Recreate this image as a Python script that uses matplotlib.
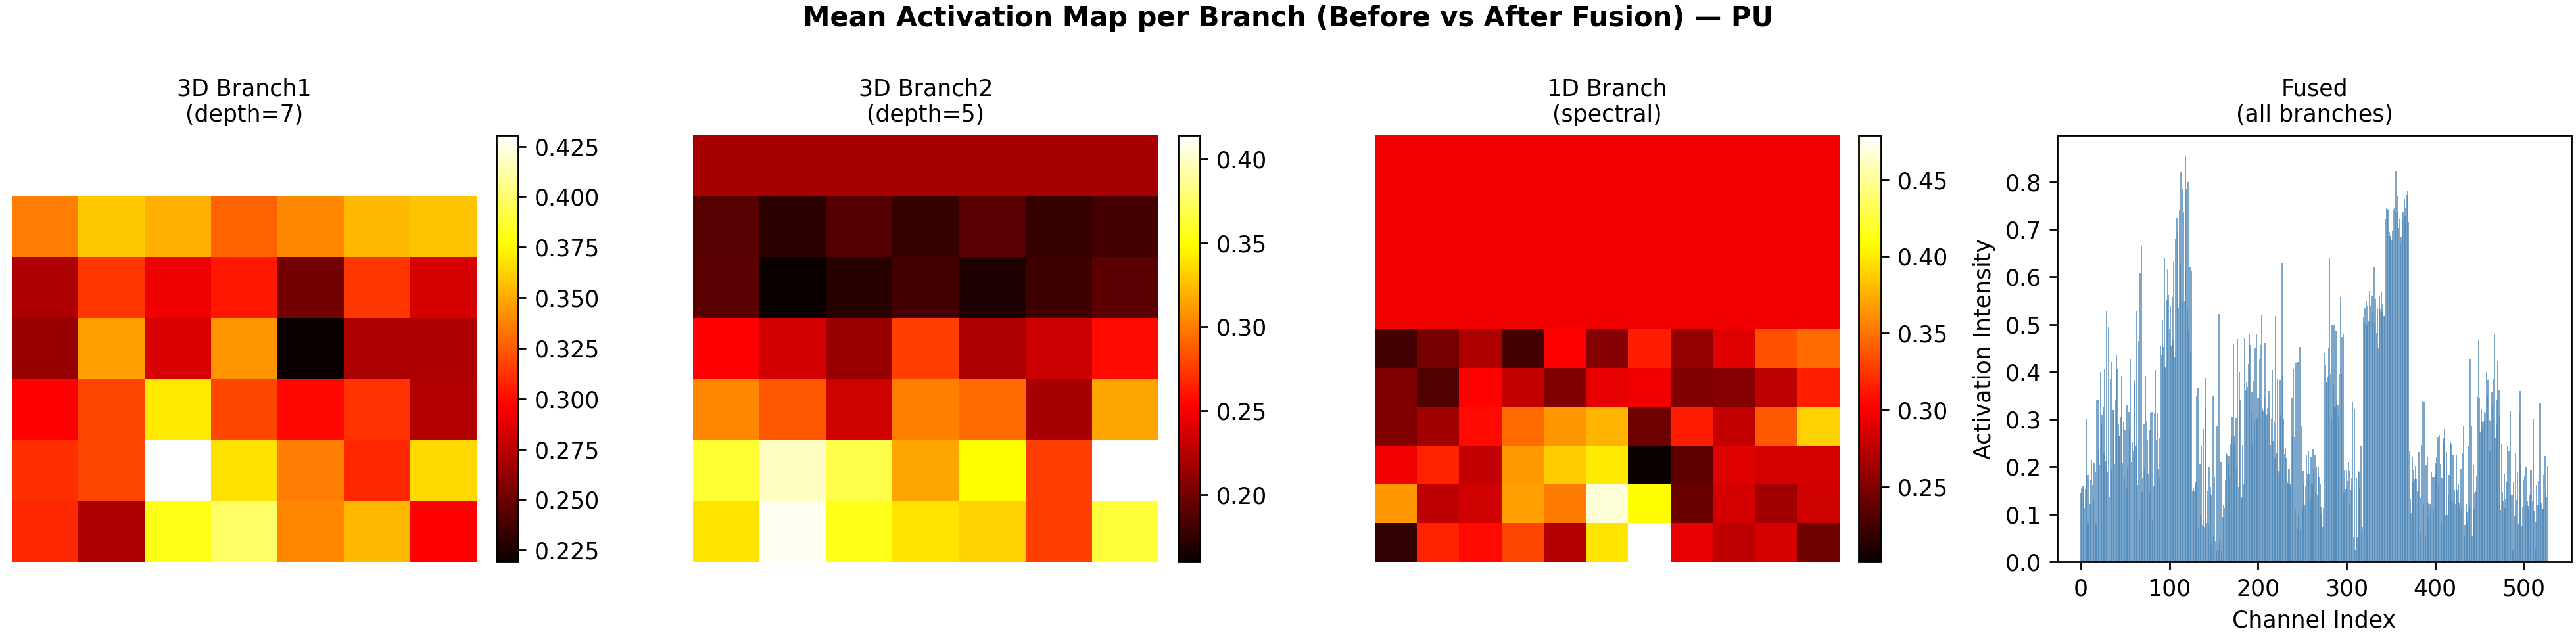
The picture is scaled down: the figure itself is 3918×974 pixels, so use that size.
import numpy as np
import matplotlib
matplotlib.use("Agg")
import matplotlib.pyplot as plt

# ---- data ----
nan = np.nan

# 3D Branch1 (depth=7): 7x7, top row empty
branch1 = [
    [nan, nan, nan, nan, nan, nan, nan],
    [0.336, 0.360, 0.352, 0.328, 0.339, 0.355, 0.358],
    [0.271, 0.314, 0.291, 0.304, 0.253, 0.314, 0.284],
    [0.264, 0.347, 0.285, 0.343, 0.2192, 0.270, 0.271],
    [0.296, 0.319, 0.370, 0.319, 0.299, 0.312, 0.272],
    [0.311, 0.319, 0.4304, 0.367, 0.336, 0.309, 0.365],
    [0.309, 0.270, 0.381, 0.398, 0.339, 0.355, 0.296],
]

# 3D Branch2 (depth=5): 7x7
branch2 = [
    [0.220, 0.220, 0.220, 0.220, 0.220, 0.220, 0.220],
    [0.189, 0.173, 0.188, 0.177, 0.191, 0.177, 0.182],
    [0.191, 0.160, 0.171, 0.182, 0.167, 0.180, 0.191],
    [0.253, 0.236, 0.214, 0.277, 0.221, 0.233, 0.257],
    [0.304, 0.286, 0.235, 0.301, 0.293, 0.220, 0.315],
    [0.362, 0.399, 0.368, 0.315, 0.349, 0.277, 0.414],
    [0.339, 0.410, 0.356, 0.339, 0.332, 0.277, 0.364],
]

# 1D Branch (spectral): 11x11, first five rows constant
branch1d = [
    [0.297] * 11,
    [0.297] * 11,
    [0.297] * 11,
    [0.297] * 11,
    [0.297] * 11,
    [0.225, 0.246, 0.270, 0.225, 0.302, 0.253, 0.314, 0.258, 0.290, 0.336, 0.347],
    [0.250, 0.231, 0.304, 0.278, 0.250, 0.293, 0.297, 0.250, 0.253, 0.275, 0.316],
    [0.250, 0.263, 0.307, 0.347, 0.366, 0.377, 0.243, 0.314, 0.278, 0.339, 0.389],
    [0.297, 0.317, 0.278, 0.367, 0.387, 0.399, 0.201, 0.236, 0.290, 0.286, 0.285],
    [0.366, 0.275, 0.283, 0.369, 0.354, 0.468, 0.408, 0.242, 0.285, 0.263, 0.283],
    [0.218, 0.317, 0.307, 0.332, 0.271, 0.397, 0.479, 0.293, 0.275, 0.286, 0.243],
]

# Fused channel activations (528 channels)
fused_a = [
    0.144, 0.157, 0.161, 0.153, 0.114, 0.153, 0.302, 0.183, 0.081, 0.183,
    0.122, 0.171, 0.214, 0.162, 0.131, 0.208, 0.190, 0.080, 0.341, 0.340,
    0.238, 0.205, 0.400, 0.290, 0.309, 0.326, 0.230, 0.405, 0.212, 0.529,
    0.190, 0.495, 0.137, 0.384, 0.193, 0.420, 0.320, 0.320, 0.206, 0.342,
    0.434, 0.406, 0.290, 0.264, 0.264, 0.306, 0.392, 0.208, 0.295, 0.177,
    0.278, 0.153, 0.330, 0.200, 0.316, 0.280, 0.427, 0.210, 0.253, 0.233,
    0.374, 0.383, 0.245, 0.529, 0.162, 0.465, 0.090, 0.608, 0.664, 0.146,
    0.177, 0.290, 0.195, 0.392, 0.298, 0.256, 0.185, 0.146, 0.276, 0.313,
    0.316, 0.089, 0.161, 0.314, 0.404, 0.256, 0.313, 0.197, 0.176, 0.260,
    0.455, 0.435, 0.509, 0.452, 0.640, 0.409, 0.406, 0.550, 0.617, 0.562,
    0.491, 0.540, 0.455, 0.558, 0.467, 0.632, 0.431, 0.680, 0.724, 0.691,
    0.535, 0.740, 0.628, 0.820, 0.785, 0.547, 0.737, 0.549, 0.855, 0.785,
    0.535, 0.800, 0.487, 0.620, 0.440, 0.613, 0.150, 0.155, 0.149, 0.159,
    0.167, 0.348, 0.365, 0.069, 0.206, 0.100, 0.244, 0.077, 0.279, 0.074,
    0.324, 0.387, 0.081, 0.149, 0.078, 0.200, 0.158, 0.141, 0.034, 0.349,
    0.056, 0.179, 0.043, 0.022, 0.286, 0.025, 0.522, 0.046, 0.210, 0.022,
    0.094, 0.119, 0.113, 0.171, 0.229, 0.224, 0.209, 0.223, 0.177, 0.249,
    0.265, 0.304, 0.458, 0.265, 0.246, 0.303, 0.197, 0.469, 0.158, 0.400,
    0.342, 0.131, 0.137, 0.246, 0.164, 0.470, 0.363, 0.377, 0.368, 0.416,
    0.479, 0.456, 0.313, 0.358, 0.249, 0.380, 0.297, 0.449, 0.480, 0.300,
    0.344, 0.344, 0.428, 0.457, 0.520, 0.322, 0.318, 0.344, 0.460, 0.314,
]
fused_b = [
    0.309, 0.323, 0.360, 0.314, 0.246, 0.300, 0.404, 0.255, 0.294, 0.218,
    0.517, 0.228, 0.384, 0.191, 0.187, 0.382, 0.309, 0.628, 0.394, 0.300,
    0.227, 0.239, 0.219, 0.167, 0.164, 0.196, 0.163, 0.161, 0.344, 0.265,
    0.405, 0.263, 0.112, 0.418, 0.069, 0.420, 0.099, 0.452, 0.068, 0.286,
    0.113, 0.191, 0.164, 0.120, 0.161, 0.226, 0.184, 0.233, 0.185, 0.131,
    0.220, 0.165, 0.238, 0.197, 0.226, 0.145, 0.200, 0.140, 0.200, 0.178,
    0.164, 0.116, 0.099, 0.074, 0.113, 0.440, 0.414, 0.378, 0.376, 0.390,
    0.450, 0.640, 0.396, 0.300, 0.500, 0.372, 0.499, 0.327, 0.487, 0.335,
    0.330, 0.304, 0.396, 0.558, 0.398, 0.473, 0.478, 0.146, 0.194, 0.153,
    0.194, 0.170, 0.210, 0.120, 0.191, 0.152, 0.177, 0.336, 0.053, 0.322,
    0.025, 0.177, 0.053, 0.191, 0.188, 0.155, 0.243, 0.065, 0.074,
]
fused_c = [
    0.515, 0.502, 0.535, 0.549, 0.499, 0.538, 0.506, 0.570, 0.538, 0.559,
    0.524, 0.559, 0.620, 0.502, 0.553, 0.481, 0.535, 0.450, 0.559, 0.533,
    0.567, 0.525, 0.543, 0.517, 0.517, 0.720, 0.746, 0.743, 0.740, 0.695,
    0.686, 0.686, 0.677, 0.696, 0.740, 0.745, 0.736, 0.823, 0.770, 0.736,
    0.703, 0.720, 0.669, 0.685, 0.720, 0.736, 0.763, 0.727, 0.745, 0.772,
    0.782, 0.715, 0.232, 0.132, 0.102, 0.221, 0.167, 0.194, 0.174, 0.202,
    0.174, 0.150, 0.147, 0.231, 0.060, 0.134, 0.246, 0.337, 0.120, 0.336,
    0.051, 0.205, 0.220, 0.125, 0.094, 0.122, 0.113, 0.190, 0.179, 0.111,
    0.179, 0.186, 0.209, 0.220, 0.263, 0.164, 0.267, 0.206, 0.081, 0.177,
    0.252, 0.261, 0.279, 0.098, 0.231, 0.098, 0.140, 0.183, 0.253, 0.249,
    0.127, 0.224, 0.127, 0.152, 0.122,
]
fused_d = [
    0.226, 0.152, 0.164, 0.125, 0.113, 0.197, 0.110, 0.229, 0.286, 0.056,
    0.077, 0.122, 0.105, 0.083, 0.244, 0.118, 0.428, 0.286, 0.056, 0.205,
    0.110, 0.144, 0.150, 0.181, 0.347, 0.468, 0.346, 0.273, 0.322, 0.295,
    0.279, 0.296, 0.316, 0.313, 0.400, 0.352, 0.383, 0.299, 0.232, 0.298,
    0.357, 0.328, 0.384, 0.478, 0.260, 0.291, 0.340, 0.423, 0.363, 0.309,
    0.109, 0.247, 0.147, 0.128, 0.185, 0.113, 0.133, 0.169, 0.243, 0.232,
    0.232, 0.317, 0.140, 0.140, 0.025, 0.167, 0.095, 0.230, 0.130, 0.190,
    0.080, 0.312, 0.360, 0.203, 0.075, 0.116, 0.171, 0.181, 0.119, 0.199,
    0.127, 0.117, 0.109, 0.141, 0.194, 0.194, 0.129, 0.300, 0.107, 0.028,
    0.083, 0.162, 0.120, 0.170, 0.335, 0.333, 0.123, 0.111, 0.110, 0.182,
    0.223, 0.147, 0.137, 0.202,
]
fused = fused_a + fused_b + fused_c + fused_d
channels = np.arange(len(fused))

cb_ticks = [
    [0.225, 0.250, 0.275, 0.300, 0.325, 0.350, 0.375, 0.400, 0.425],
    [0.20, 0.25, 0.30, 0.35, 0.40],
    [0.25, 0.30, 0.35, 0.40, 0.45],
]
titles = ["3D Branch1\n(depth=7)", "3D Branch2\n(depth=5)",
          "1D Branch\n(spectral)", "Fused\n(all branches)"]

# ---- layout (pixel based) ----
W, H = 3918, 974
fig = plt.figure(figsize=(W / 250, H / 250), dpi=250)

def box(x0, x1, y0=206, y1=855):
    return [x0 / W, 1 - y1 / H, (x1 - x0) / W, (y1 - y0) / H]

heat_x = [(18, 725), (1054, 1762), (2091, 2798)]
cbar_x = [(755, 788), (1792, 1825), (2827, 2861)]

for i, data in enumerate([branch1, branch2, branch1d]):
    ax = fig.add_axes(box(*heat_x[i]))
    im = ax.imshow(np.array(data, dtype=float), cmap="hot", aspect="auto",
                   interpolation="nearest")
    ax.set_title(titles[i], fontsize=10)
    ax.axis("off")
    cax = fig.add_axes(box(*cbar_x[i]))
    cb = fig.colorbar(im, cax=cax)
    cb.set_ticks(cb_ticks[i])

# overlapping bars give the darker fill seen in the reference
ax4 = fig.add_axes(box(3129, 3911))
ax4.bar(channels, fused, width=1.5, color="steelblue", alpha=0.7)
ax4.set_xlim(-26.8, 554.0)
ax4.set_title(titles[3], fontsize=10)
ax4.set_xlabel("Channel Index")
ax4.set_ylabel("Activation Intensity")

fig.suptitle("Mean Activation Map per Branch (Before vs After Fusion) — PU",
             fontsize=12, fontweight="bold", y=1 - 28 / H, va="center")

fig.savefig("out.png", dpi=250)
